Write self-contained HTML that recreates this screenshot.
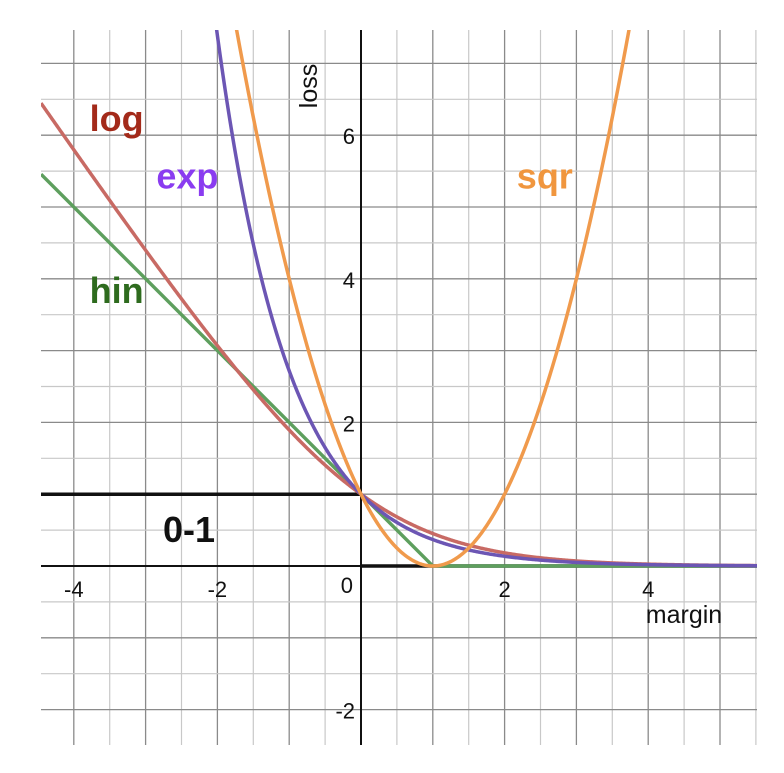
<!DOCTYPE html>
<html><head><meta charset="utf-8"><style>
body{margin:0;background:#fff;}
svg text{font-family:"Liberation Sans",sans-serif;}
</style></head><body>
<svg id="chart" width="784" height="768">
<g id="grid"></g>
<g id="curves"></g>
<g id="labels"></g>
</svg>
<script>
const xTicks = [-4, -2, 2, 4];
const yTicks = [-2, 2, 4, 6];
const seriesNames = ["log", "exp", "sqr", "hin"];
const seriesColors = ["#c86a64", "#6c56b4", "#f09a4c", "#5e9f5e"];
const labelColors = ["#a32a1a", "#8a3cf0", "#f0963e", "#2e6b1e"];
const labelPos = [[-3.78, 6.06], [-2.85, 5.26], [2.17, 5.26], [-3.78, 3.66]];

const X0 = 361, Y0 = 566, U = 71.8;
const L = 41, R = 757, T = 30, B = 745;
const sx = v => X0 + v * U, sy = v => Y0 - v * U;
const ns = "http://www.w3.org/2000/svg";
function mk(tag, attrs, parent) { const e = document.createElementNS(ns, tag); for (const k in attrs) e.setAttribute(k, attrs[k]); parent.appendChild(e); return e; }
const grid = document.getElementById('grid'), curves = document.getElementById('curves'), labels = document.getElementById('labels');
const xmin = (L - X0) / U, xmax = (R - X0) / U, ymin = (Y0 - B) / U, ymax = (Y0 - T) / U;
for (let v = Math.ceil(xmin * 2) / 2; v <= xmax; v += 0.5) {
  const r = Math.round(v * 2) / 2; const maj = Math.abs(r - Math.round(r)) < 1e-6;
  const l = mk('line', {x1: sx(r), x2: sx(r), y1: T, y2: B, stroke: maj ? '#8a8a8a' : '#c8c8c8', 'stroke-width': maj ? 1.3 : 1.2}, grid);
  
  
}
for (let v = Math.ceil(ymin * 2) / 2; v <= ymax; v += 0.5) {
  const r = Math.round(v * 2) / 2; const maj = Math.abs(r - Math.round(r)) < 1e-6;
  const l = mk('line', {x1: L, x2: R, y1: sy(r), y2: sy(r), stroke: maj ? '#8a8a8a' : '#c8c8c8', 'stroke-width': maj ? 1.3 : 1.2}, grid);
  
  
}
let a = mk('line', {x1: L, x2: R, y1: Y0, y2: Y0, stroke: '#111', 'stroke-width': 2}, grid);


a = mk('line', {x1: X0, x2: X0, y1: T, y2: B, stroke: '#111', 'stroke-width': 2}, grid);


xTicks.forEach(t => { const e = mk('text', {x: sx(t), y: Y0 + 31, 'text-anchor': 'middle', 'font-size': 22, fill: '#111'}, labels); e.textContent = t < 0 ? '-' + (-t) : t;
  
   });
yTicks.forEach(t => { const e = mk('text', {x: X0 - 6, y: sy(t) + 9, 'text-anchor': 'end', 'font-size': 22, fill: '#111'}, labels); e.textContent = t < 0 ? '-' + (-t) : t;
  
   });
let z = mk('text', {x: X0 - 8, y: Y0 + 27, 'text-anchor': 'end', 'font-size': 22, fill: '#111'}, labels); z.textContent = '0';


let xt = mk('text', {x: 684, y: 623, 'text-anchor': 'middle', 'font-size': 25, fill: '#111'}, labels); xt.textContent = 'margin';


let yt = mk('text', {x: 0, y: 0, 'text-anchor': 'middle', 'font-size': 25, fill: '#111', transform: 'translate(317,86) rotate(-90)'}, labels); yt.textContent = 'loss';



const fns = [x => Math.log2(1 + Math.exp(-x)), x => Math.exp(-x), x => (1 - x) * (1 - x), x => Math.max(0, 1 - x)];
let zo = mk('path', {d: `M${L},${sy(1)} H${X0} M${X0},${Y0} H${R}`, stroke: '#111', 'stroke-width': 3.5, fill: 'none'}, curves);


let zl = mk('text', {x: 163, y: 542, 'font-size': 36, 'font-weight': 'bold', fill: '#111'}, labels); zl.textContent = '0-1';


const clip = mk('clipPath', {id: 'pc'}, document.getElementById('chart'));
mk('rect', {x: L, y: T, width: R - L, height: B - T}, clip);
const order = [3, 0, 1, 2];
order.forEach(i => {
  let d = '';
  for (let px = L; px <= R; px += 1) { const x = (px - X0) / U; let y = fns[i](x); y = Math.min(y, 20); d += (d ? 'L' : 'M') + px + ',' + sy(y).toFixed(2); }
  const p = mk('path', {d, stroke: seriesColors[i], 'stroke-width': 3.5, fill: 'none', 'clip-path': 'url(#pc)'}, curves);
  
  
});
seriesNames.forEach((n, i) => {
  const t = mk('text', {x: sx(labelPos[i][0]), y: sy(labelPos[i][1]), 'font-size': 36, 'font-weight': 'bold', fill: labelColors[i]}, labels);
  t.textContent = n;
  
  
});
</script>
</body></html>
